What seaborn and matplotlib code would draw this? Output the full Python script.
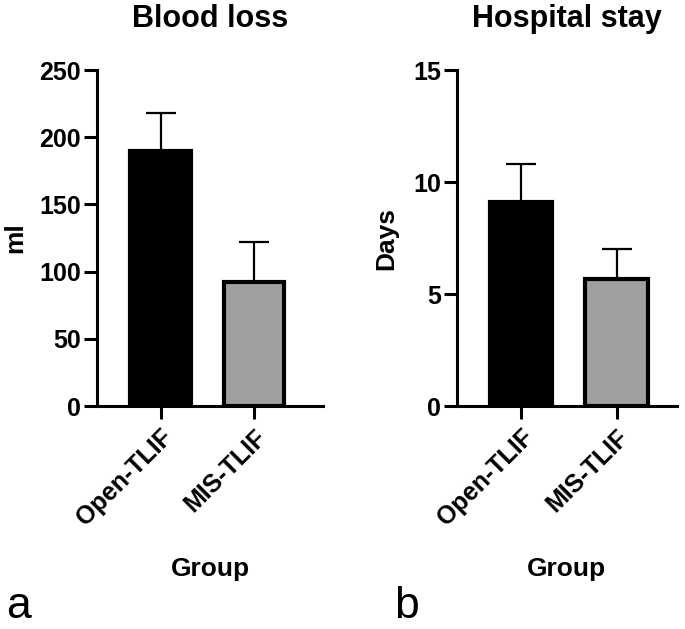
import matplotlib
matplotlib.use("Agg")
import matplotlib.pyplot as plt
import seaborn as sns

groups = ["Open-TLIF", "MIS-TLIF"]
blood_loss_mean = [190, 92]
blood_loss_sd = [28, 30]
stay_mean = [9.1, 5.65]
stay_sd = [1.7, 1.35]

bar_colors = ["#000000", "#a0a0a0"]

sns.set_style("ticks")
plt.rcParams["font.family"] = ["Liberation Sans", "DejaVu Sans"]
plt.rcParams["font.weight"] = "bold"
for key in ["text.color", "axes.labelcolor", "xtick.color", "ytick.color",
            "axes.edgecolor"]:
    plt.rcParams[key] = "black"

fig = plt.figure(figsize=(6.85, 6.29), dpi=100)
ax1 = fig.add_axes([0.1416, 0.3545, 0.3299, 0.5342])
ax2 = fig.add_axes([0.667, 0.3545, 0.321, 0.5342])


def panel(ax, means, sds, title, ylabel, ymax, step, xlim, ylab_x):
    sns.barplot(x=groups, y=means, hue=groups, palette=bar_colors,
                edgecolor="black", linewidth=3, width=0.65,
                legend=False, ax=ax, zorder=3)
    ax.errorbar(range(len(groups)), means, yerr=[[0] * len(sds), sds],
                fmt="none", ecolor="black", elinewidth=1.6, capsize=11,
                capthick=1.6, zorder=1)
    ax.set_ylim(0, ymax)
    ax.set_xlim(*xlim)
    ax.set_yticks([i * step for i in range(int(ymax / step) + 1)])
    ax.set_title(title, fontsize=22, fontweight="bold", pad=31)
    ax.set_ylabel(ylabel, fontsize=19, fontweight="bold")
    ax.yaxis.set_label_coords(ylab_x, 0.5)
    ax.set_xlabel("Group", fontsize=19, fontweight="bold")
    ax.xaxis.set_label_coords(0.5, -0.45)
    sns.despine(ax=ax)
    for s in ["left", "bottom"]:
        ax.spines[s].set_linewidth(2.2)
    ax.tick_params(axis="both", width=2.2, length=9.5, labelsize=18)
    ax.tick_params(axis="y", pad=2)
    ax.tick_params(axis="x", pad=4)
    for lab in ax.get_xticklabels():
        lab.set_rotation(45)
        lab.set_ha("right")
        lab.set_rotation_mode("anchor")
        lab.set_fontweight("bold")
    for lab in ax.get_yticklabels():
        lab.set_fontweight("bold")


panel(ax1, blood_loss_mean, blood_loss_sd, "Blood loss", "ml", 250, 50,
      (-0.684, 1.74), -0.31)
panel(ax2, stay_mean, stay_sd, "Hospital stay", "Days", 15, 5,
      (-0.67, 1.63), -0.268)

fig.text(0.009, 0.018, "a", fontsize=32, fontweight="normal")
fig.text(0.576, 0.018, "b", fontsize=32, fontweight="normal")

fig.savefig("out.png", dpi=100)
